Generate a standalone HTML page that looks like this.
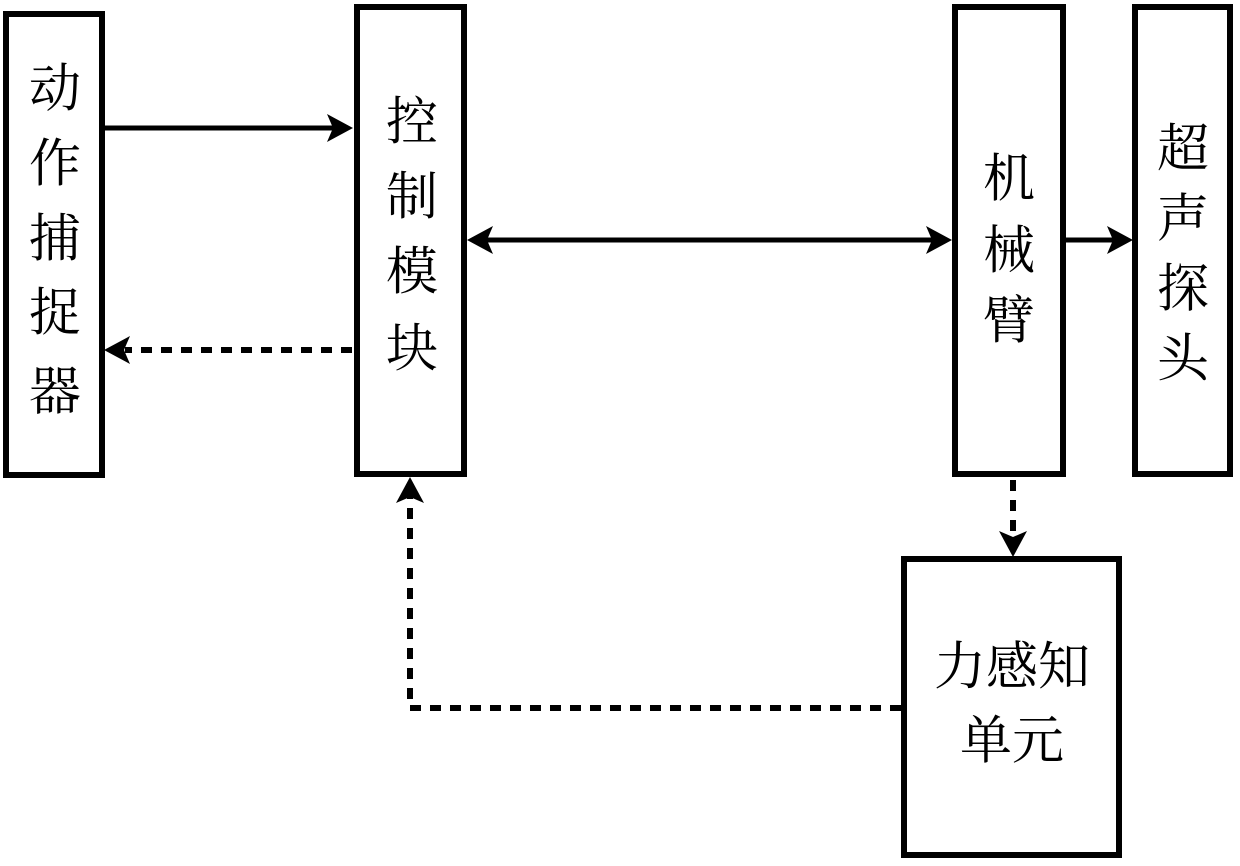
<!DOCTYPE html>
<html><head><meta charset="utf-8"><style>
html,body{margin:0;padding:0;background:#fff;}
svg{display:block}
text{font-family:"Liberation Serif","Noto Serif CJK SC",serif;font-size:52px;fill:#000;text-anchor:middle;dominant-baseline:central}
</style></head><body>
<svg width="1240" height="866" viewBox="0 0 1240 866" xmlns="http://www.w3.org/2000/svg">
<g fill="none" stroke="#000" stroke-width="6">
<rect x="6" y="14" width="96" height="461"/>
<rect x="357" y="7" width="107" height="467"/>
<rect x="955" y="7" width="108" height="467"/>
<rect x="1135" y="7" width="95" height="467"/>
<rect x="904" y="559" width="215" height="296"/>
</g>
<g stroke="#000" stroke-width="5" fill="none">
<line x1="103" y1="128" x2="335" y2="128"/>
<line x1="485" y1="240" x2="932" y2="240"/>
<line x1="1063" y1="240" x2="1115" y2="240"/>
</g>
<g stroke="#000" stroke-width="6" fill="none" stroke-dasharray="11,9">
<line x1="352" y1="350" x2="125" y2="350"/>
<line x1="1013" y1="480" x2="1013" y2="538"/>
<polyline points="901,708 410,708 410,494"/>
</g>
<g fill="#000">
<polygon points="353,128 327,114 333,128 327,142"/>
<polygon points="467,240 493,226 487,240 493,254"/>
<polygon points="952,240 926,226 932,240 926,254"/>
<polygon points="1133,240 1107,226 1113,240 1107,254"/>
<polygon points="104,350 130,336 124,350 130,364"/>
<polygon points="1013,557 999,531 1013,537 1027,531"/>
<polygon points="410,477 396,503 410,497 424,503"/>
</g>
<text x="55" y="90">动</text>
<text x="55" y="165">作</text>
<text x="55" y="240">捕</text>
<text x="55" y="314">捉</text>
<text x="55" y="393">器</text>
<text x="412" y="123">控</text>
<text x="412" y="198">制</text>
<text x="412" y="273">模</text>
<text x="412" y="350">块</text>
<text x="1009" y="180">机</text>
<text x="1009" y="252">械</text>
<text x="1009" y="322">臂</text>
<text x="1183" y="150">超</text>
<text x="1183" y="220">声</text>
<text x="1183" y="290">探</text>
<text x="1183" y="360">头</text>
<text x="1012" y="668">力感知</text>
<text x="1012" y="742">单元</text>
</svg>
</body></html>
